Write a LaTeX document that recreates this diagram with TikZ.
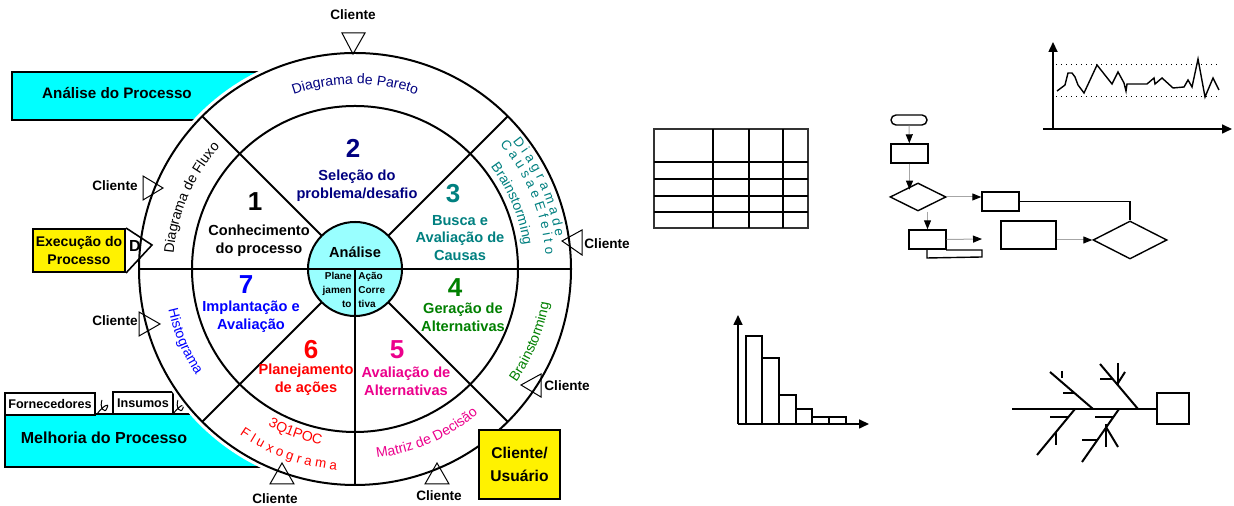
\documentclass[tikz,border=0pt]{standalone}
\usepackage{fontspec}
\setmainfont{Liberation Sans}
\usetikzlibrary{calc,shapes.geometric,arrows.meta,decorations.text}

\definecolor{navyc}{RGB}{0,0,128}
\definecolor{tealc}{RGB}{0,128,128}
\definecolor{greenc}{RGB}{0,128,0}
\definecolor{boxcyan}{RGB}{0,255,255}
\definecolor{corecyan}{RGB}{153,255,255}

\newcommand{\ringfont}{\fontsize{7}{8}\selectfont}
\newcommand{\spacedfont}{\fontsize{6.7}{7.5}\selectfont}

\begin{document}
\begin{tikzpicture}[x=0.5pt, y=0.5pt,
  wheel/.style={line width=1pt},
  title/.style={font=\bfseries\fontsize{7.6}{9}\selectfont, inner sep=0pt},
  lbl/.style={font=\bfseries\fontsize{7.3}{8.8}\selectfont, align=center, inner sep=0pt},
  num/.style={font=\bfseries\fontsize{13}{14}\selectfont, inner sep=0pt},
  cli/.style={font=\bfseries\fontsize{6.8}{8}\selectfont, inner sep=1pt},
  tri/.style={line width=0.5pt},
  smallbox/.style={font=\bfseries\fontsize{6.3}{7.5}\selectfont, draw, fill=white, line width=0.8pt, inner sep=0pt},
  fbox/.style={draw, line width=0.7pt, inner sep=0pt, minimum width=18.5pt, minimum height=9.5pt},
  fdiam/.style={draw, diamond, line width=0.7pt, inner sep=0pt},
  flow/.style={draw=gray!70, line width=0.5pt, -{Triangle[length=4.5pt, width=3.5pt, color=black]}},
  axis/.style={line width=0.8pt, -{Triangle[length=5pt, width=4.5pt]}},
  bone/.style={line width=1pt}]
\useasboundingbox (0,0) rectangle (1234,506);
\coordinate (O) at (355,237);

% process boxes behind the wheel
\filldraw[fill=boxcyan, line width=1pt] (12,386) rectangle (320,434);
\node[title] (analise) at (117,413) {Análise do Processo};
\filldraw[fill=boxcyan, line width=1pt] (5,39) rectangle (330,92);
\node[title, font=\bfseries\fontsize{8}{9}\selectfont] (melhoria) at (104,68) {Melhoria do Processo};
\node[smallbox, minimum width=45pt, minimum height=11pt] (forn) at (50,102) {Fornecedores};
\node[smallbox, minimum width=30pt, minimum height=11pt] (insumos) at (143,103) {Insumos};
\foreach \lx in {97,173}
  \draw[line width=0.5pt] (\lx,92) .. controls (\lx+6,100) and (\lx+13,104) .. (\lx+10,98)
    .. controls (\lx+8,91) and (\lx+2,99) .. (\lx+5,106);

% wheel
\fill[white] (O) circle[radius=220];
\draw[wheel] (O) circle[radius=216];
\draw[wheel] (O) circle[radius=163];
\foreach \a in {45,135,225,315}
  \draw[wheel] ($(O)+(\a:47)$) -- ($(O)+(\a:216)$);
\draw[wheel, fill=corecyan] (O) circle[radius=47];
\draw[wheel] ($(O)+(180:216)$) -- ($(O)+(0:216)$);
\draw[wheel] (O) -- ($(O)+(270:216)$);

% tools along the outer ring
\path[decorate, decoration={text along path, text align=center, text color=navyc,
  text={|\ringfont|Diagrama de Pareto}}] ($(O)+(125:185)$) arc[start angle=125, end angle=55, radius=185];
\path[decorate, decoration={text along path, text align=center, text color=black,
  text={|\ringfont|Diagrama de Fluxo}}] ($(O)+(180:182)$) arc[start angle=180, end angle=133, radius=182];
\path[decorate, decoration={text along path, text align=center, text color=blue,
  text={|\ringfont|Histograma}}] ($(O)+(183:191)$) arc[start angle=183, end angle=223, radius=191];
\path[decorate, decoration={text along path, text align=center, text color=tealc,
  text={|\spacedfont|D i a g r a m a d e}}] ($(O)+(45:203)$) arc[start angle=45, end angle=3, radius=203];
\path[decorate, decoration={text along path, text align=center, text color=tealc,
  text={|\spacedfont|C a u s a e E f e i t o}}] ($(O)+(45:191)$) arc[start angle=45, end angle=0, radius=191];
\path[decorate, decoration={text along path, text align=center, text color=tealc,
  text={|\ringfont|Brainstorming}}] ($(O)+(45:170)$) arc[start angle=45, end angle=0, radius=170];
\path[decorate, decoration={text along path, text align=center, text color=greenc,
  text={|\ringfont|Brainstorming}}] ($(O)+(-45:197)$) arc[start angle=-45, end angle=0, radius=197];
\path[decorate, decoration={text along path, text align=center, text color=magenta,
  text={|\ringfont|Matriz de Decisão}}] ($(O)+(-88:190)$) arc[start angle=-88, end angle=-45, radius=190];
\path[decorate, decoration={text along path, text align=center, text color=red,
  text={|\ringfont|3Q1POC}}] ($(O)+(-130:179)$) arc[start angle=-130, end angle=-90, radius=179];
\path[decorate, decoration={text along path, text align=center, text color=red,
  text={|\spacedfont|F l u x o g r a m a}}] ($(O)+(-130:202)$) arc[start angle=-130, end angle=-90, radius=202];

% steps
\node[num] (n1) at (255,304) {1};
\node[lbl] (t1) at (259,265) {Conhecimento\\do processo};
\node[num, navyc] (n2) at (353,358) {2};
\node[lbl, navyc] (t2) at (357,320) {Seleção do\\problema/desafio};
\node[num, tealc] (n3) at (453,312) {3};
\node[lbl, tealc] (t3) at (460,268) {Busca e\\Avaliação de\\Causas};
\node[num, greenc] (n4) at (455,218) {4};
\node[lbl, greenc] (t4) at (463,189) {Geração de\\Alternativas};
\node[num, magenta] (n5) at (397,156) {5};
\node[lbl, magenta] (t5) at (406,125) {Avaliação de\\Alternativas};
\node[num, red] (n6) at (311,156) {6};
\node[lbl, red] (t6) at (306,126) {Planejamento\\de ações};
\node[num, blue] (n7) at (246,221) {7};
\node[lbl, blue] (t7) at (251,189) {Implantação e\\Avaliação};

% core
\node[lbl] (core) at (355,254) {Análise};
\node[font=\bfseries\fontsize{5}{7}\selectfont, align=right, inner sep=1pt, anchor=east] (plan) at (354,216) {Plane\\jamen\\to};
\node[font=\bfseries\fontsize{5}{7}\selectfont, align=left, inner sep=1pt, anchor=west] (acao) at (356,216) {Ação\\Corre\\tiva};

% clients
\draw[tri] (342,473) -- (365,473) -- (353,452) -- cycle;
\draw[tri] (143,330) -- (143,306) -- (163,318) -- cycle;
\draw[tri] (582,276) -- (582,251) -- (562,265) -- cycle;
\draw[tri] (139,194) -- (139,170) -- (160,182) -- cycle;
\draw[tri] (270,22) -- (294,22) -- (282,43) -- cycle;
\draw[tri] (425,22) -- (449,22) -- (437,43) -- cycle;
\draw[tri] (521,121) -- (541,132) -- (541,109) -- cycle;
\node[cli] (c1) at (353,491) {Cliente};
\node[cli, anchor=east] (c2) at (140,320) {Cliente};
\node[cli, anchor=west] (c3) at (582,262) {Cliente};
\node[cli, anchor=east] (c4) at (140,185) {Cliente};
\node[cli] (c5) at (275,7) {Cliente};
\node[cli] (c6) at (439,10) {Cliente};
\node[cli, anchor=west] (c7) at (542,120) {Cliente};

\node[draw, fill=yellow, line width=1pt, minimum width=46pt, minimum height=21.5pt, align=center,
  inner sep=0pt, font=\bfseries\fontsize{7}{9}\selectfont] (exec) at (79,255.5) {Execução do\\Processo};
\coordinate (dtip) at (152,261);
\draw[line width=0.8pt] (exec.north east) -- (dtip) -- (exec.south east);
\node[font=\bfseries\fontsize{8}{9}\selectfont, inner sep=0pt] (dletter) at (135,260) {D};
\node[draw, fill=yellow, line width=1pt, minimum width=40.5pt, minimum height=34.5pt, align=center,
  inner sep=0pt, font=\bfseries\fontsize{7.8}{11.5}\selectfont] (usuario) at (519.5,41.5) {Cliente/\\Usuário};

% table
\draw[line width=0.7pt, gray!40!black] (654,278) rectangle (808,377);
\foreach \tx in {713,749,783} \draw[line width=1pt] (\tx,278) -- (\tx,377);
\foreach \ty in {344,327,310,294} \draw[line width=1pt] (654,\ty) -- (808,\ty);

% flowchart
\node[fbox, rounded corners=2.5pt, minimum width=18pt, minimum height=5pt] (fterm) at (909,386) {};
\node[fbox] (fb1) at (909.5,352.5) {};
\node[fdiam, minimum width=28pt, minimum height=14pt] (fd1) at (918,309) {};
\node[fbox] (fb2) at (1000.5,304.5) {};
\node[fbox, minimum width=27.5pt, minimum height=14pt] (fb3) at (1028.5,271) {};
\node[fdiam, minimum width=37pt, minimum height=19pt] (fd2) at (1130,266) {};
\node[fbox] (fb4) at (927.5,266.5) {};
\coordinate (f4out) at (982,267);
\draw[flow] (fterm) -- (fb1);
\draw[flow] (fb1.south) -- (fb1.south |- fd1.north west);
\draw[flow] (fd1.east) -- (fd1.east -| fb2.west);
\draw[flow] (fb4.north |- fd1.south) -- (fb4.north);
\draw[flow] (fb4.east) -- (f4out);
\draw[line width=0.6pt] (fb2.east) -| (fd2.north);
\draw[flow] (fb3.east |- fd2.west) -- (fd2.west);
\draw[line width=0.7pt] (927,257) -- (927,248) -- (982,249) -- (982,256) -- (946,256);

% control chart
\draw[axis] (1053,377) -- (1053,464);
\draw[axis] (1043,377) -- (1232,377);
\draw[dotted, line width=0.5pt] (1056,441) -- (1220,441);
\draw[dotted, line width=0.5pt] (1056,409) -- (1220,409);
\draw[line width=0.7pt] plot coordinates {(1057,415) (1065,421) (1068,433) (1072,433) (1075,429)
  (1078,421) (1084,413) (1097,441) (1112,422) (1118,434) (1124,423) (1126,415) (1127,422)
  (1147,422) (1154,428) (1155,422) (1162,428) (1173,418) (1184,419) (1188,426) (1192,419)
  (1198,447) (1205,409) (1213,428) (1219,416)};

% pareto chart
\foreach \xa/\xb/\h in {746/762/170, 762/779/148, 779/796/111, 796/812/97, 812/829/89, 829/846/89}
  \draw[line width=0.7pt] (\xa,82) rectangle (\xb,\h);
\draw[axis] (738,82) -- (738,191);
\draw[axis] (738,82) -- (869,82);

% cause and effect
\draw[bone] (1012,97) -- (1157,97);
\draw[line width=0.7pt] (1157,82) rectangle (1189,113);
\draw[bone] (1050,134) -- (1093,97);
\draw[bone] (1100,142) -- (1138,97);
\draw[bone] (1037,51) -- (1075,97);
\draw[bone] (1082,44) -- (1119,97);
\draw[bone] (1062,135) -- (1062,128);
\draw[bone] (1063,113) -- (1075,113);
\draw[bone] (1118,143) -- (1118,121);
\draw[bone] (1125,134) -- (1118,123);
\draw[bone] (1100,127) -- (1113,127);
\draw[bone] (1050,89) -- (1069,89);
\draw[bone] (1056,74) -- (1056,61);
\draw[bone] (1095,89) -- (1114,89);
\draw[bone] (1106,82) -- (1106,59);
\draw[bone] (1082,66) -- (1098,66);
\draw[bone] (1106,79) -- (1118,59);
\end{tikzpicture}
\end{document}
